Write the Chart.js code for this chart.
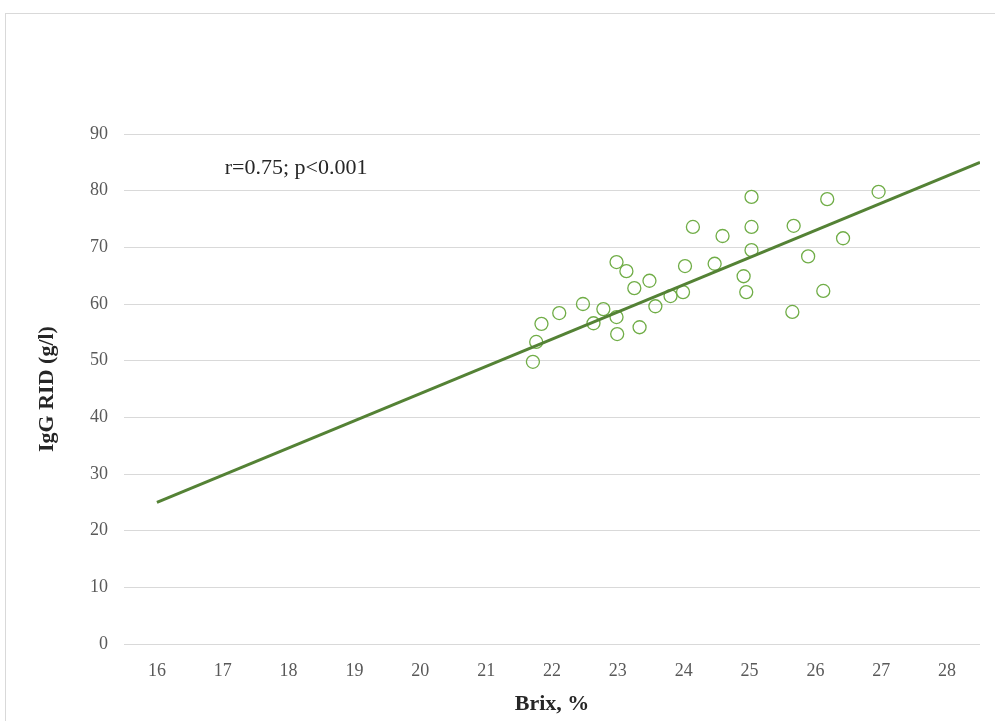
<!DOCTYPE html>
<html>
<head>
<meta charset="utf-8">
<script src="https://cdn.jsdelivr.net/npm/chart.js@4"></script>
<style>
  body { margin: 0; background: #fff; }
  .frame { position: absolute; left: 5px; top: 13px; width: 1000px; height: 720px; border: 1px solid #d9d9d9; }
  #wrap { position: absolute; left: 0; top: 0; width: 995px; height: 721px; }
</style>
</head>
<body>
<div class="frame"></div>
<div id="wrap"><canvas id="brix"></canvas></div>
<script>
// samples: Brix % vs IgG RID
const brix = [21.71, 21.76, 21.84, 22.11, 22.47, 22.63, 22.78, 22.98, 23.13, 22.98, 22.99,
  23.25, 23.33, 23.48, 23.57, 23.80, 23.99, 24.02, 24.14, 24.47, 24.59, 24.91, 24.95,
  25.03, 25.03, 25.03, 25.67, 25.65, 25.89, 26.12, 26.18, 26.42, 26.96];
const igg = [49.8, 53.3, 56.5, 58.4, 60.0, 56.6, 59.1, 67.4, 65.8, 57.7, 54.7,
  62.8, 55.9, 64.1, 59.6, 61.4, 62.1, 66.7, 73.6, 67.1, 72.0, 64.9, 62.1,
  78.9, 73.6, 69.5, 73.8, 58.6, 68.4, 62.3, 78.5, 71.6, 79.8];

// linear trend
const trendX = [16, 28.5];
const trendY = [25, 85];

const xTicks = [16, 17, 18, 19, 20, 21, 22, 23, 24, 25, 26, 27, 28];
const note = "r=0.75; p<0.001";

const serif = "'Liberation Serif', 'Times New Roman', serif";

const notePlugin = {
  id: "note",
  afterDatasetsDraw(chart) {
    const ctx = chart.ctx;
    const x = chart.scales.x.getPixelForValue(17.03);
    const y = chart.scales.y.getPixelForValue(84.0);
    ctx.save();
    ctx.font = "22px " + serif;
    ctx.fillStyle = "#262626";
    ctx.textBaseline = "middle";
    ctx.fillText(note, x, y);
    ctx.restore();
  }
};

new Chart(document.getElementById("brix"), {
  type: "scatter",
  data: {
    datasets: [
      {
        label: "trend",
        type: "line",
        data: trendX.map((v, i) => ({ x: v, y: trendY[i] })),
        borderColor: "#548235",
        borderWidth: 3,
        pointRadius: 0,
        fill: false,
        order: 0
      },
      {
        label: "IgG",
        data: brix.map((v, i) => ({ x: v, y: igg[i] })),
        pointRadius: 6.5,
        pointBorderWidth: 1.3,
        borderColor: "#70ad47",
        backgroundColor: "rgba(0,0,0,0)",
        order: 1
      }
    ]
  },
  options: {
    responsive: true,
    maintainAspectRatio: false,
    animation: false,
    layout: { padding: { top: 134, right: 15, left: 0, bottom: 0 } },
    plugins: {
      legend: { display: false },
      tooltip: { enabled: false }
    },
    scales: {
      x: {
        type: "linear",
        min: 15.5,
        max: 28.5,
        afterBuildTicks: (scale) => {
          scale.ticks = xTicks.map(v => ({ value: v }));
        },
        afterFit: (scale) => { scale.height = 77; },
        ticks: {
          color: "#595959",
          font: { family: serif, size: 18 },
          padding: 16,
          maxRotation: 0
        },
        grid: { display: false, drawTicks: false },
        border: { display: false },
        title: {
          display: true,
          text: "Brix, %",
          color: "#262626",
          font: { family: serif, size: 22, weight: "bold" },
          padding: { top: 0, bottom: 3 }
        }
      },
      y: {
        min: 0,
        max: 90,
        afterFit: (scale) => { scale.width = 124; },
        ticks: {
          stepSize: 10,
          color: "#595959",
          font: { family: serif, size: 18 },
          padding: 16
        },
        grid: { color: "#d9d9d9", lineWidth: 1, drawTicks: false },
        border: { display: false },
        title: {
          display: true,
          text: "IgG RID (g/l)",
          color: "#262626",
          font: { family: serif, size: 22, weight: "bold" },
          padding: { top: 34, bottom: 0 }
        }
      }
    }
  },
  plugins: [notePlugin]
});
</script>
</body>
</html>
